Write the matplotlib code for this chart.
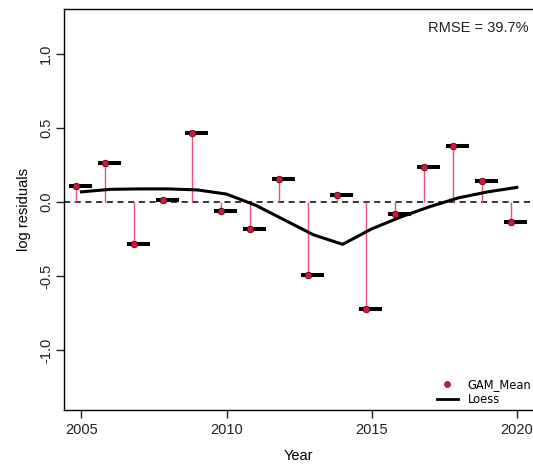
import matplotlib
matplotlib.use('Agg')
import matplotlib.pyplot as plt
import numpy as np
from matplotlib.lines import Line2D

plt.rcParams['font.family'] = ['Liberation Sans', 'DejaVu Sans']

years = np.arange(2005, 2021)
gam_mean = [0.108, 0.263, -0.279, 0.018, 0.468, -0.056, -0.18, 0.16,
            -0.489, 0.05, -0.718, -0.077, 0.239, 0.38, 0.142, -0.133]
loess = [0.07, 0.087, 0.09, 0.09, 0.083, 0.055, -0.02, -0.12,
         -0.22, -0.284, -0.18, -0.1, -0.03, 0.03, 0.07, 0.1]
rmse_label = 'RMSE = 39.7%'

POINT_SHIFT = 0.2
BAR_LEFT, BAR_RIGHT = 0.43, 0.37
RED = '#DC143C'
STEM = '#E8507A'

fig = plt.figure(figsize=(5.33, 4.65), dpi=100)
ax = fig.add_axes([64 / 533, 55 / 465, (533 - 64) / 533, 401 / 465])

px = years - POINT_SHIFT
ax.axhline(0, color='black', ls=(0, (4, 3)), lw=1.1, zorder=1)
ax.vlines(px, 0, gam_mean, color=STEM, lw=1.0, zorder=2)
ax.plot(years, loess, color='black', lw=2.2, zorder=3)
ax.hlines(gam_mean, years - BAR_LEFT, years + BAR_RIGHT, color='black', lw=2.9,
          capstyle='butt', zorder=4)
ax.scatter(px, gam_mean, s=22, color=RED, edgecolor='#401018', linewidth=0.6, zorder=5)

ax.set_xlim(2004.40, 2020.56)
ax.set_ylim(-1.402, 1.304)
ax.set_xticks([2005, 2010, 2015, 2020])
ax.set_yticks([-1.0, -0.5, 0.0, 0.5, 1.0])
ax.set_yticklabels(['-1.0', '-0.5', '0.0', '0.5', '1.0'], rotation=90, va='center')
ax.tick_params(direction='out', length=6, width=1, labelsize=10.5, colors='#222222', pad=3)
ax.tick_params(axis='y', pad=2)
ax.spines['right'].set_visible(False)
for s in ['left', 'top', 'bottom']:
    ax.spines[s].set_linewidth(1.0)

ax.set_xlabel('Year', fontsize=10.5, labelpad=9)
ax.set_ylabel('log residuals', fontsize=10.5, labelpad=6)

fig.text(529 / 533, 1 - 28 / 465, rmse_label, ha='right', va='center', fontsize=10.5,
         color='#222222')

handles = [Line2D([], [], ls='none', marker='o', markersize=4.2, markerfacecolor=RED,
                  markeredgecolor='#401018', markeredgewidth=0.5),
           Line2D([], [], color='black', lw=2.0)]
fig.legend(handles, ['GAM_Mean', 'Loess'], loc='upper left',
           bbox_to_anchor=(437 / 533, 1 - 378 / 465), bbox_transform=fig.transFigure,
           frameon=False, prop={'family': 'DejaVu Sans', 'size': 8.3},
           handlelength=1.8, handletextpad=0.85,
           labelspacing=0.2, borderpad=0, borderaxespad=0)

fig.savefig('out.png', dpi=100)
